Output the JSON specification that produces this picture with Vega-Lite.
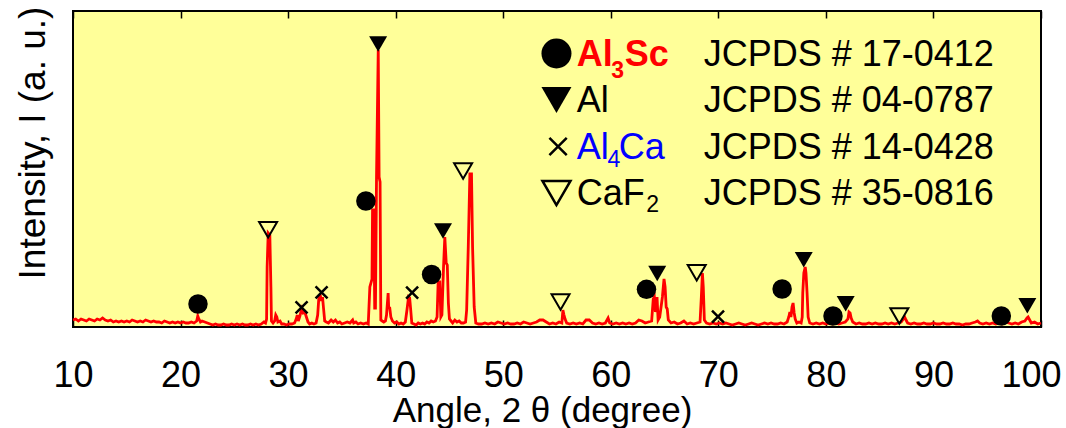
{
  "$schema": "https://vega.github.io/schema/vega-lite/v6.json",
  "width": 968,
  "height": 316,
  "autosize": {"type": "none"},
  "padding": {"left": 73, "top": 11, "right": 25, "bottom": 101},
  "background": "white",
  "config": {
    "view": {"fill": "#FFFF99", "stroke": "black", "strokeWidth": 2},
    "font": "Liberation Sans"
  },
  "datasets": {
    "xrd": [
      {"angle":10.0,"intensity":7},{"angle":10.25,"intensity":8},{"angle":10.5,"intensity":6},{"angle":10.75,"intensity":8},{"angle":11.0,"intensity":7},{"angle":11.25,"intensity":6},{"angle":11.5,"intensity":8},{"angle":11.75,"intensity":7},{"angle":12.0,"intensity":6},{"angle":12.25,"intensity":8},{"angle":12.5,"intensity":7},{"angle":12.75,"intensity":9},{"angle":13.0,"intensity":7},{"angle":13.25,"intensity":6},{"angle":13.5,"intensity":7},{"angle":13.75,"intensity":5},{"angle":14.0,"intensity":6},{"angle":14.25,"intensity":5},{"angle":14.5,"intensity":6},{"angle":14.75,"intensity":5},{"angle":15.0,"intensity":6},{"angle":15.25,"intensity":5},{"angle":15.5,"intensity":7},{"angle":15.75,"intensity":6},{"angle":16.0,"intensity":5},{"angle":16.25,"intensity":6},{"angle":16.5,"intensity":5},{"angle":16.75,"intensity":7},{"angle":17.0,"intensity":6},{"angle":17.25,"intensity":5},{"angle":17.5,"intensity":6},{"angle":17.75,"intensity":5},{"angle":18.0,"intensity":5},{"angle":18.25,"intensity":4},{"angle":18.5,"intensity":6},{"angle":18.75,"intensity":5},{"angle":19.0,"intensity":4},{"angle":19.25,"intensity":5},{"angle":19.5,"intensity":4},{"angle":19.75,"intensity":5},{"angle":20.0,"intensity":4},{"angle":20.25,"intensity":5},{"angle":20.5,"intensity":4},{"angle":20.75,"intensity":4},{"angle":21.0,"intensity":5},{"angle":21.25,"intensity":4},{"angle":21.5,"intensity":6},{"angle":21.6,"intensity":11},{"angle":21.7,"intensity":8},{"angle":21.85,"intensity":5},{"angle":22.0,"intensity":6},{"angle":22.25,"intensity":5},{"angle":22.5,"intensity":4},{"angle":22.75,"intensity":3},{"angle":23.0,"intensity":2},{"angle":23.25,"intensity":3},{"angle":23.5,"intensity":2},{"angle":23.75,"intensity":2},{"angle":24.0,"intensity":3},{"angle":24.25,"intensity":2},{"angle":24.5,"intensity":2},{"angle":24.75,"intensity":3},{"angle":25.0,"intensity":2},{"angle":25.25,"intensity":3},{"angle":25.5,"intensity":2},{"angle":25.75,"intensity":3},{"angle":26.0,"intensity":2},{"angle":26.25,"intensity":2},{"angle":26.5,"intensity":3},{"angle":26.75,"intensity":2},{"angle":27.0,"intensity":3},{"angle":27.25,"intensity":2},{"angle":27.5,"intensity":3},{"angle":27.75,"intensity":5},{"angle":27.9,"intensity":4},{"angle":28.0,"intensity":8},{"angle":28.05,"intensity":60},{"angle":28.15,"intensity":94},{"angle":28.3,"intensity":92},{"angle":28.4,"intensity":40},{"angle":28.45,"intensity":6},{"angle":28.6,"intensity":4},{"angle":28.75,"intensity":6},{"angle":28.85,"intensity":12},{"angle":28.95,"intensity":10},{"angle":29.05,"intensity":5},{"angle":29.25,"intensity":6},{"angle":29.4,"intensity":3},{"angle":29.6,"intensity":3},{"angle":29.85,"intensity":2},{"angle":30.1,"intensity":3},{"angle":30.35,"intensity":3},{"angle":30.6,"intensity":4},{"angle":30.75,"intensity":8},{"angle":30.85,"intensity":12},{"angle":30.95,"intensity":6},{"angle":31.1,"intensity":11},{"angle":31.25,"intensity":18},{"angle":31.4,"intensity":14},{"angle":31.55,"intensity":15},{"angle":31.7,"intensity":10},{"angle":31.85,"intensity":5},{"angle":32.0,"intensity":3},{"angle":32.2,"intensity":4},{"angle":32.4,"intensity":3},{"angle":32.6,"intensity":4},{"angle":32.75,"intensity":12},{"angle":32.85,"intensity":28},{"angle":33.0,"intensity":31},{"angle":33.1,"intensity":26},{"angle":33.2,"intensity":30},{"angle":33.3,"intensity":18},{"angle":33.4,"intensity":6},{"angle":33.55,"intensity":5},{"angle":33.75,"intensity":4},{"angle":34.0,"intensity":7},{"angle":34.2,"intensity":5},{"angle":34.4,"intensity":7},{"angle":34.6,"intensity":4},{"angle":34.8,"intensity":5},{"angle":35.0,"intensity":3},{"angle":35.25,"intensity":4},{"angle":35.5,"intensity":5},{"angle":35.75,"intensity":4},{"angle":36.0,"intensity":7},{"angle":36.1,"intensity":4},{"angle":36.3,"intensity":5},{"angle":36.5,"intensity":3},{"angle":36.75,"intensity":4},{"angle":37.0,"intensity":3},{"angle":37.25,"intensity":4},{"angle":37.45,"intensity":3},{"angle":37.6,"intensity":40},{"angle":37.8,"intensity":48},{"angle":37.85,"intensity":117},{"angle":37.97,"intensity":117},{"angle":38.05,"intensity":19},{"angle":38.12,"intensity":19},{"angle":38.22,"intensity":150},{"angle":38.38,"intensity":277},{"angle":38.46,"intensity":150},{"angle":38.55,"intensity":145},{"angle":38.62,"intensity":7},{"angle":38.75,"intensity":6},{"angle":38.9,"intensity":5},{"angle":39.05,"intensity":6},{"angle":39.15,"intensity":12},{"angle":39.3,"intensity":34},{"angle":39.35,"intensity":20},{"angle":39.45,"intensity":19},{"angle":39.55,"intensity":10},{"angle":39.7,"intensity":6},{"angle":39.9,"intensity":4},{"angle":40.1,"intensity":5},{"angle":40.3,"intensity":3},{"angle":40.5,"intensity":4},{"angle":40.7,"intensity":3},{"angle":40.9,"intensity":5},{"angle":41.05,"intensity":17},{"angle":41.2,"intensity":30},{"angle":41.3,"intensity":29},{"angle":41.4,"intensity":17},{"angle":41.5,"intensity":4},{"angle":41.7,"intensity":3},{"angle":41.9,"intensity":2},{"angle":42.1,"intensity":4},{"angle":42.3,"intensity":3},{"angle":42.5,"intensity":4},{"angle":42.7,"intensity":3},{"angle":42.9,"intensity":5},{"angle":43.1,"intensity":4},{"angle":43.3,"intensity":6},{"angle":43.5,"intensity":5},{"angle":43.7,"intensity":6},{"angle":43.85,"intensity":10},{"angle":43.95,"intensity":45},{"angle":44.1,"intensity":45},{"angle":44.2,"intensity":10},{"angle":44.3,"intensity":12},{"angle":44.45,"intensity":60},{"angle":44.57,"intensity":90},{"angle":44.7,"intensity":64},{"angle":44.8,"intensity":62},{"angle":44.9,"intensity":24},{"angle":45.0,"intensity":8},{"angle":45.15,"intensity":6},{"angle":45.3,"intensity":4},{"angle":45.5,"intensity":7},{"angle":45.7,"intensity":5},{"angle":45.9,"intensity":6},{"angle":46.1,"intensity":4},{"angle":46.3,"intensity":4},{"angle":46.5,"intensity":5},{"angle":46.6,"intensity":17},{"angle":46.75,"intensity":80},{"angle":46.9,"intensity":153},{"angle":47.05,"intensity":153},{"angle":47.15,"intensity":80},{"angle":47.3,"intensity":20},{"angle":47.45,"intensity":4},{"angle":47.7,"intensity":3},{"angle":48.0,"intensity":3},{"angle":48.3,"intensity":4},{"angle":48.6,"intensity":3},{"angle":48.9,"intensity":4},{"angle":49.2,"intensity":3},{"angle":49.5,"intensity":5},{"angle":49.8,"intensity":4},{"angle":50.1,"intensity":3},{"angle":50.4,"intensity":4},{"angle":50.7,"intensity":3},{"angle":51.0,"intensity":3},{"angle":51.3,"intensity":4},{"angle":51.6,"intensity":3},{"angle":51.9,"intensity":5},{"angle":52.2,"intensity":4},{"angle":52.5,"intensity":3},{"angle":52.8,"intensity":4},{"angle":53.1,"intensity":5},{"angle":53.4,"intensity":7},{"angle":53.7,"intensity":7},{"angle":54.0,"intensity":5},{"angle":54.3,"intensity":3},{"angle":54.6,"intensity":4},{"angle":54.9,"intensity":3},{"angle":55.2,"intensity":5},{"angle":55.45,"intensity":4},{"angle":55.55,"intensity":17},{"angle":55.65,"intensity":12},{"angle":55.75,"intensity":8},{"angle":55.9,"intensity":4},{"angle":56.2,"intensity":3},{"angle":56.5,"intensity":4},{"angle":56.8,"intensity":3},{"angle":57.1,"intensity":4},{"angle":57.4,"intensity":3},{"angle":57.7,"intensity":7},{"angle":58.0,"intensity":7},{"angle":58.3,"intensity":4},{"angle":58.6,"intensity":3},{"angle":58.9,"intensity":4},{"angle":59.2,"intensity":3},{"angle":59.5,"intensity":4},{"angle":59.75,"intensity":9},{"angle":59.9,"intensity":4},{"angle":60.2,"intensity":3},{"angle":60.5,"intensity":4},{"angle":60.8,"intensity":3},{"angle":61.1,"intensity":4},{"angle":61.4,"intensity":3},{"angle":61.7,"intensity":4},{"angle":62.0,"intensity":3},{"angle":62.3,"intensity":4},{"angle":62.6,"intensity":7},{"angle":62.9,"intensity":6},{"angle":63.2,"intensity":4},{"angle":63.5,"intensity":5},{"angle":63.8,"intensity":6},{"angle":63.95,"intensity":28},{"angle":64.05,"intensity":30},{"angle":64.15,"intensity":15},{"angle":64.3,"intensity":30},{"angle":64.4,"intensity":7},{"angle":64.55,"intensity":10},{"angle":64.8,"intensity":30},{"angle":64.95,"intensity":48},{"angle":65.05,"intensity":40},{"angle":65.15,"intensity":20},{"angle":65.25,"intensity":18},{"angle":65.35,"intensity":7},{"angle":65.6,"intensity":4},{"angle":65.9,"intensity":5},{"angle":66.2,"intensity":3},{"angle":66.5,"intensity":4},{"angle":66.8,"intensity":6},{"angle":67.1,"intensity":3},{"angle":67.4,"intensity":4},{"angle":67.7,"intensity":3},{"angle":68.0,"intensity":4},{"angle":68.3,"intensity":5},{"angle":68.42,"intensity":30},{"angle":68.52,"intensity":54},{"angle":68.6,"intensity":40},{"angle":68.7,"intensity":7},{"angle":68.9,"intensity":4},{"angle":69.2,"intensity":3},{"angle":69.5,"intensity":4},{"angle":69.8,"intensity":3},{"angle":70.1,"intensity":4},{"angle":70.4,"intensity":3},{"angle":70.7,"intensity":4},{"angle":71.0,"intensity":3},{"angle":71.3,"intensity":2},{"angle":71.6,"intensity":3},{"angle":71.9,"intensity":4},{"angle":72.2,"intensity":3},{"angle":72.5,"intensity":2},{"angle":72.8,"intensity":3},{"angle":73.1,"intensity":4},{"angle":73.4,"intensity":3},{"angle":73.7,"intensity":2},{"angle":74.0,"intensity":3},{"angle":74.3,"intensity":4},{"angle":74.6,"intensity":3},{"angle":74.9,"intensity":4},{"angle":75.2,"intensity":3},{"angle":75.5,"intensity":3},{"angle":75.8,"intensity":4},{"angle":76.1,"intensity":3},{"angle":76.4,"intensity":5},{"angle":76.55,"intensity":10},{"angle":76.65,"intensity":15},{"angle":76.75,"intensity":10},{"angle":76.85,"intensity":20},{"angle":76.95,"intensity":24},{"angle":77.05,"intensity":14},{"angle":77.15,"intensity":8},{"angle":77.3,"intensity":4},{"angle":77.5,"intensity":5},{"angle":77.7,"intensity":4},{"angle":77.8,"intensity":10},{"angle":77.85,"intensity":34},{"angle":77.95,"intensity":54},{"angle":78.08,"intensity":60},{"angle":78.15,"intensity":54},{"angle":78.25,"intensity":34},{"angle":78.35,"intensity":10},{"angle":78.5,"intensity":4},{"angle":78.8,"intensity":3},{"angle":79.1,"intensity":4},{"angle":79.4,"intensity":3},{"angle":79.7,"intensity":4},{"angle":80.0,"intensity":3},{"angle":80.3,"intensity":4},{"angle":80.6,"intensity":3},{"angle":80.9,"intensity":4},{"angle":81.2,"intensity":3},{"angle":81.5,"intensity":4},{"angle":81.8,"intensity":5},{"angle":82.05,"intensity":8},{"angle":82.15,"intensity":15},{"angle":82.25,"intensity":14},{"angle":82.35,"intensity":9},{"angle":82.5,"intensity":5},{"angle":82.8,"intensity":3},{"angle":83.1,"intensity":4},{"angle":83.4,"intensity":3},{"angle":83.7,"intensity":3},{"angle":84.0,"intensity":4},{"angle":84.3,"intensity":3},{"angle":84.6,"intensity":4},{"angle":84.9,"intensity":3},{"angle":85.2,"intensity":3},{"angle":85.5,"intensity":4},{"angle":85.8,"intensity":3},{"angle":86.1,"intensity":4},{"angle":86.4,"intensity":3},{"angle":86.7,"intensity":4},{"angle":87.0,"intensity":5},{"angle":87.2,"intensity":8},{"angle":87.32,"intensity":10},{"angle":87.45,"intensity":7},{"angle":87.6,"intensity":4},{"angle":87.9,"intensity":3},{"angle":88.2,"intensity":4},{"angle":88.5,"intensity":3},{"angle":88.8,"intensity":3},{"angle":89.1,"intensity":4},{"angle":89.4,"intensity":3},{"angle":89.7,"intensity":3},{"angle":90.0,"intensity":4},{"angle":90.3,"intensity":3},{"angle":90.6,"intensity":3},{"angle":90.9,"intensity":4},{"angle":91.2,"intensity":3},{"angle":91.5,"intensity":3},{"angle":91.8,"intensity":4},{"angle":92.1,"intensity":3},{"angle":92.4,"intensity":3},{"angle":92.7,"intensity":2},{"angle":93.0,"intensity":3},{"angle":93.3,"intensity":3},{"angle":93.6,"intensity":4},{"angle":93.9,"intensity":5},{"angle":94.1,"intensity":6},{"angle":94.3,"intensity":4},{"angle":94.6,"intensity":3},{"angle":94.9,"intensity":4},{"angle":95.2,"intensity":3},{"angle":95.5,"intensity":4},{"angle":95.8,"intensity":3},{"angle":96.1,"intensity":4},{"angle":96.4,"intensity":3},{"angle":96.7,"intensity":5},{"angle":97.0,"intensity":4},{"angle":97.3,"intensity":3},{"angle":97.6,"intensity":4},{"angle":97.9,"intensity":3},{"angle":98.2,"intensity":5},{"angle":98.5,"intensity":6},{"angle":98.7,"intensity":9},{"angle":98.8,"intensity":10},{"angle":98.95,"intensity":7},{"angle":99.1,"intensity":4},{"angle":99.4,"intensity":5},{"angle":99.7,"intensity":3},{"angle":100.0,"intensity":4}
    ],
    "markers": [
      {"phase":"Al3Sc","angle":21.62,"intensity":23},{"phase":"Al3Sc","angle":37.23,"intensity":126},{"phase":"Al3Sc","angle":43.34,"intensity":52.5},{"phase":"Al3Sc","angle":63.32,"intensity":37.7},{"phase":"Al3Sc","angle":75.93,"intensity":38},{"phase":"Al3Sc","angle":80.66,"intensity":11},{"phase":"Al3Sc","angle":96.31,"intensity":11},
      {"phase":"Al","angle":38.37,"intensity":283},{"phase":"Al","angle":44.4,"intensity":96},{"phase":"Al","angle":64.32,"intensity":53.5},{"phase":"Al","angle":77.94,"intensity":67.3},{"phase":"Al","angle":81.84,"intensity":23.3},{"phase":"Al","angle":98.73,"intensity":21.2},
      {"phase":"CaF2","angle":28.14,"intensity":97.2},{"phase":"CaF2","angle":46.27,"intensity":156},{"phase":"CaF2","angle":55.33,"intensity":25},{"phase":"CaF2","angle":67.99,"intensity":54.2},{"phase":"CaF2","angle":86.83,"intensity":11},
      {"phase":"Al4Ca","angle":31.25,"intensity":19.7},{"phase":"Al4Ca","angle":33.11,"intensity":34.7},{"phase":"Al4Ca","angle":41.53,"intensity":34.3},{"phase":"Al4Ca","angle":69.97,"intensity":10.3}
    ],
    "legend": [
      {"phase":"Al3Sc","main":"Al","sub":"3","tail":"Sc","code":"JCPDS # 17-0412","order":1},
      {"phase":"Al","main":"Al","sub":"","tail":"","code":"JCPDS # 04-0787","order":2},
      {"phase":"Al4Ca","main":"Al","sub":"4","tail":"Ca","code":"JCPDS # 14-0428","order":3},
      {"phase":"CaF2","main":"CaF","sub":"2","tail":"","code":"JCPDS # 35-0816","order":4}
    ]
  },
  "resolve": {"axis": {"x": "independent"}},
  "layer": [
    {
      "data": {"name": "xrd"},
      "mark": {"type": "line", "color": "#FF0000", "strokeWidth": 2.8},
      "encoding": {
        "x": {"field": "angle", "type": "quantitative",
              "scale": {"domain": [10, 100], "nice": false, "zero": false},
              "axis": {"orient": "bottom", "values": [10,20,30,40,50,60,70,80,90,100],
                       "domain": false, "grid": false, "tickSize": -7, "tickWidth": 1.5, "tickColor": "black",
                       "labelFontSize": 36, "labelColor": "black", "labelBaseline": "alphabetic", "labelPadding": 66,
                       "labelFlush": false, "labelFont": "Liberation Sans", "labelOverlap": false,
                       "labelOffset": {"condition": {"test": "datum.value === 100", "value": -10}, "value": 0},
                       "title": "Angle, 2 θ (degree)", "titleFontSize": 35, "titleFontWeight": "normal",
                       "titleColor": "black", "titleFont": "Liberation Sans", "titleBaseline": "alphabetic",
                       "titleY": 94, "titleX": 469, "titleAlign": "center"}},
        "y": {"field": "intensity", "type": "quantitative",
              "scale": {"domain": [0, 316], "nice": false},
              "axis": {"orient": "left", "domain": false, "ticks": false, "labels": false, "grid": false,
                       "title": "Intensity, I (a. u.)", "titleFontSize": 37, "titleFontWeight": "normal",
                       "titleColor": "black", "titleFont": "Liberation Sans", "titleBaseline": "alphabetic",
                       "titleX": -29, "titleY": 131.5, "titleAngle": -90}}
      }
    },
    {
      "data": {"name": "markers"},
      "transform": [{"filter": "datum.phase === 'Al3Sc'"}],
      "mark": {"type": "point", "shape": "circle", "filled": true, "color": "black", "size": 380, "opacity": 1},
      "encoding": {
        "x": {"field": "angle", "type": "quantitative",
              "axis": {"orient": "top", "values": [10,20,30,40,50,60,70,80,90,100], "labels": false,
                       "domain": false, "grid": false, "tickSize": -7, "tickWidth": 1.5, "tickColor": "black", "title": null}},
        "y": {"field": "intensity", "type": "quantitative"}
      }
    },
    {
      "data": {"name": "markers"},
      "transform": [{"filter": "datum.phase === 'Al'"}],
      "mark": {"type": "point", "shape": "triangle-down", "filled": true, "color": "black", "size": 324, "opacity": 1},
      "encoding": {
        "x": {"field": "angle", "type": "quantitative", "axis": null},
        "y": {"field": "intensity", "type": "quantitative"}
      }
    },
    {
      "data": {"name": "markers"},
      "transform": [{"filter": "datum.phase === 'CaF2'"}],
      "mark": {"type": "point", "shape": "triangle-down", "filled": false, "stroke": "black", "strokeWidth": 2, "size": 324, "opacity": 1},
      "encoding": {
        "x": {"field": "angle", "type": "quantitative", "axis": null},
        "y": {"field": "intensity", "type": "quantitative"}
      }
    },
    {
      "data": {"name": "markers"},
      "transform": [{"filter": "datum.phase === 'Al4Ca'"}],
      "mark": {"type": "point", "shape": "M-1,-1L1,1M1,-1L-1,1", "filled": false, "stroke": "black", "strokeWidth": 2.5, "size": 144, "opacity": 1},
      "encoding": {
        "x": {"field": "angle", "type": "quantitative", "axis": null},
        "y": {"field": "intensity", "type": "quantitative"}
      }
    },
    {
      "data": {"name": "legend"},
      "transform": [
        {"calculate": "273.5 - (datum.order - 1) * 46.5", "as": "sy"},
        {"filter": "datum.phase === 'Al3Sc'"}
      ],
      "mark": {"type": "point", "shape": "circle", "filled": true, "color": "black", "size": 900, "opacity": 1},
      "encoding": {
        "x": {"datum": 54.95, "type": "quantitative", "axis": null},
        "y": {"field": "sy", "type": "quantitative"}
      }
    },
    {
      "data": {"name": "legend"},
      "transform": [
        {"calculate": "273.5 - (datum.order - 1) * 46.5", "as": "sy"},
        {"filter": "datum.phase === 'Al'"}
      ],
      "mark": {"type": "point", "shape": "triangle-down", "filled": true, "color": "black", "size": 900, "opacity": 1},
      "encoding": {
        "x": {"datum": 54.95, "type": "quantitative", "axis": null},
        "y": {"field": "sy", "type": "quantitative"}
      }
    },
    {
      "data": {"name": "legend"},
      "transform": [
        {"calculate": "273.5 - (datum.order - 1) * 46.5", "as": "sy"},
        {"filter": "datum.phase === 'Al4Ca'"}
      ],
      "mark": {"type": "point", "shape": "M-1,-1L1,1M1,-1L-1,1", "filled": false, "stroke": "black", "strokeWidth": 2.5, "size": 300, "opacity": 1},
      "encoding": {
        "x": {"datum": 55.1, "type": "quantitative", "axis": null},
        "y": {"field": "sy", "type": "quantitative"}
      }
    },
    {
      "data": {"name": "legend"},
      "transform": [
        {"calculate": "273.5 - (datum.order - 1) * 46.5", "as": "sy"},
        {"filter": "datum.phase === 'CaF2'"}
      ],
      "mark": {"type": "point", "shape": "triangle-down", "filled": false, "stroke": "black", "strokeWidth": 2.5, "size": 784, "opacity": 1},
      "encoding": {
        "x": {"datum": 54.95, "type": "quantitative", "axis": null},
        "y": {"field": "sy", "type": "quantitative"}
      }
    },
    {
      "data": {"name": "legend"},
      "transform": [
        {"calculate": "261 - (datum.order - 1) * 46.4", "as": "ty"},
        {"filter": "datum.phase === 'Al3Sc'"}
      ],
      "mark": {"type": "text", "align": "left", "baseline": "alphabetic", "fontSize": 36, "fontWeight": "bold", "font": "Liberation Sans", "color": "#FF0000"},
      "encoding": {
        "x": {"datum": 56.84, "type": "quantitative", "axis": null},
        "y": {"field": "ty", "type": "quantitative"},
        "text": {"field": "main"}
      }
    },
    {
      "data": {"name": "legend"},
      "transform": [{"filter": "datum.phase === 'Al3Sc'"}],
      "mark": {"type": "text", "align": "left", "baseline": "alphabetic", "fontSize": 23, "fontWeight": "bold", "font": "Liberation Sans", "color": "#FF0000"},
      "encoding": {
        "x": {"datum": 60.05, "type": "quantitative", "axis": null},
        "y": {"datum": 249, "type": "quantitative"},
        "text": {"field": "sub"}
      }
    },
    {
      "data": {"name": "legend"},
      "transform": [{"filter": "datum.phase === 'Al3Sc'"}],
      "mark": {"type": "text", "align": "left", "baseline": "alphabetic", "fontSize": 36, "fontWeight": "bold", "font": "Liberation Sans", "color": "#FF0000"},
      "encoding": {
        "x": {"datum": 61.3, "type": "quantitative", "axis": null},
        "y": {"datum": 261, "type": "quantitative"},
        "text": {"field": "tail"}
      }
    },
    {
      "data": {"name": "legend"},
      "transform": [
        {"calculate": "261 - (datum.order - 1) * 46.4", "as": "ty"},
        {"filter": "datum.phase !== 'Al3Sc'"}
      ],
      "mark": {"type": "text", "align": "left", "baseline": "alphabetic", "fontSize": 36, "font": "Liberation Sans"},
      "encoding": {
        "x": {"datum": 56.84, "type": "quantitative", "axis": null},
        "y": {"field": "ty", "type": "quantitative"},
        "text": {"field": "main"},
        "color": {"field": "phase", "type": "nominal",
                  "scale": {"domain": ["Al", "Al4Ca", "CaF2"], "range": ["#000000", "#0000FF", "#000000"]},
                  "legend": null}
      }
    },
    {
      "data": {"name": "legend"},
      "transform": [{"filter": "datum.phase === 'Al4Ca'"}],
      "mark": {"type": "text", "align": "left", "baseline": "alphabetic", "fontSize": 23, "font": "Liberation Sans", "color": "#0000FF"},
      "encoding": {
        "x": {"datum": 59.7, "type": "quantitative", "axis": null},
        "y": {"datum": 160.5, "type": "quantitative"},
        "text": {"field": "sub"}
      }
    },
    {
      "data": {"name": "legend"},
      "transform": [{"filter": "datum.phase === 'Al4Ca'"}],
      "mark": {"type": "text", "align": "left", "baseline": "alphabetic", "fontSize": 36, "font": "Liberation Sans", "color": "#0000FF"},
      "encoding": {
        "x": {"datum": 60.75, "type": "quantitative", "axis": null},
        "y": {"datum": 168.2, "type": "quantitative"},
        "text": {"field": "tail"}
      }
    },
    {
      "data": {"name": "legend"},
      "transform": [{"filter": "datum.phase === 'CaF2'"}],
      "mark": {"type": "text", "align": "left", "baseline": "alphabetic", "fontSize": 23, "font": "Liberation Sans", "color": "#000000"},
      "encoding": {
        "x": {"datum": 63.3, "type": "quantitative", "axis": null},
        "y": {"datum": 115.5, "type": "quantitative"},
        "text": {"field": "sub"}
      }
    },
    {
      "data": {"name": "legend"},
      "transform": [
        {"calculate": "261 - (datum.order - 1) * 46.4", "as": "ty"}
      ],
      "mark": {"type": "text", "align": "left", "baseline": "alphabetic", "fontSize": 36, "font": "Liberation Sans", "color": "black"},
      "encoding": {
        "x": {"datum": 68.64, "type": "quantitative", "axis": null},
        "y": {"field": "ty", "type": "quantitative"},
        "text": {"field": "code"}
      }
    }
  ]
}
